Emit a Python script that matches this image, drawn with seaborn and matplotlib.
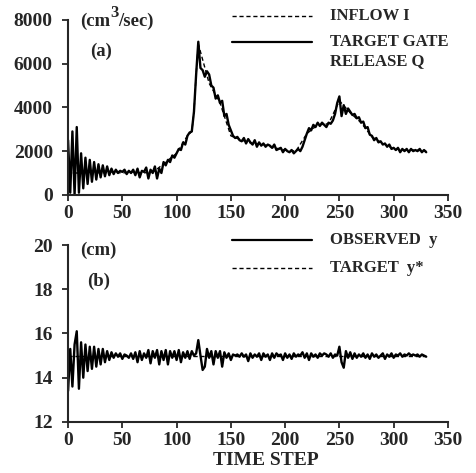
import numpy as np
import pandas as pd
import matplotlib
matplotlib.use("Agg")
import matplotlib.pyplot as plt
import seaborn as sns

# time axis (every 2nd step for the traced series)
steps = np.arange(0, 332, 2)

# panel (a): target gate release Q, cm3/sec
release_q = [
    2500, 100, 2900, 0, 3100, 100, 1900, 300, 1700, 500,
    1600, 600, 1500, 700, 1400, 800, 1350, 850, 1300, 900,
    1200, 950, 1150, 1000, 1100, 1050, 1150, 950, 1100, 1000,
    1150, 900, 1200, 800, 1100, 1050, 1250, 750, 1150, 1000,
    1300, 750, 1200, 1000, 1500, 1350, 1600, 1500, 1800, 1700,
    1900, 2100, 2050, 2400, 2300, 2700, 2850, 2900, 3800, 5500,
    7000, 5800, 5700, 5400, 5650, 5500, 5000, 4900, 4400, 4550,
    4200, 4300, 3600, 3700, 3200, 2950, 2700, 2600, 2650, 2500,
    2450, 2600, 2350, 2550, 2400, 2300, 2500, 2200, 2400, 2250,
    2350, 2200, 2300, 2250, 2150, 2300, 2050, 2100, 2150, 1950,
    2100, 2000, 1950, 2050, 1900, 2000, 2100, 2000, 2200, 2500,
    2800, 3050, 2950, 3200, 3100, 3300, 3150, 3300, 3200, 3100,
    3300, 3250, 3400, 3700, 4200, 4500, 3600, 4100, 3700, 3950,
    3800, 3650, 3700, 3500, 3550, 3300, 3350, 3050, 3100, 2750,
    2700, 2500, 2600, 2400, 2450, 2300, 2350, 2200, 2300, 2100,
    2150, 2050, 2150, 1950, 2100, 2000, 2100, 1950, 2100, 2000,
    2050, 2000, 2100, 1950, 2050, 1950,
]

# panel (a): inflow I (coarser, mostly hidden under Q)
inflow_steps = [0, 10, 20, 30, 40, 50, 60, 70, 80, 90, 100, 110, 114, 116, 118,
                120, 130, 140, 150, 160, 170, 180, 190, 200, 210, 220, 230, 240,
                250, 260, 270, 280, 290, 300, 310, 320, 330]
inflow_i = [1000, 1000, 1050, 1000, 1050, 1000, 1050, 1000, 1100, 1500, 1900,
            2700, 2900, 3800, 5500, 6900, 5100, 4200, 2700, 2500, 2350, 2300,
            2150, 2050, 2000, 2800, 3200, 3250, 4300, 3750, 3300, 2650, 2350,
            2100, 2050, 2050, 2000]

# panel (b): observed level y, cm
observed_y = [
    13.4, 15.3, 13.6, 15.5, 16.1, 13.5, 15.6, 14.0, 15.5, 14.3,
    15.4, 14.4, 15.4, 14.5, 15.3, 14.6, 15.3, 14.7, 15.2, 14.8,
    15.15, 14.9, 15.1, 14.95, 15.1, 14.85, 15.05, 15.0, 14.9, 15.1,
    14.85, 15.15, 14.7, 15.2, 14.8, 15.1, 14.9, 15.25, 14.65, 15.2,
    14.9, 15.25, 14.6, 15.2, 14.8, 15.25, 14.6, 15.2, 14.9, 15.2,
    14.8, 15.25, 14.7, 15.15, 14.9, 15.2, 14.85, 15.2, 15.0, 15.1,
    15.7, 15.0, 14.35, 14.5, 15.3, 14.9, 15.2, 14.6, 15.2, 14.9,
    15.2, 14.5, 15.15, 14.9, 15.1, 14.8, 15.05, 15.0, 15.05, 14.95,
    15.1, 14.95, 15.05, 14.75, 15.1, 14.9, 15.05, 14.95, 15.1, 14.8,
    15.1, 14.95, 15.05, 14.8, 15.1, 14.9, 15.1, 15.0, 15.05, 14.8,
    15.1, 14.9, 15.05, 14.85, 15.1, 14.95, 15.05, 15.0, 15.15, 14.9,
    15.1, 14.8, 15.1, 14.95, 15.05, 14.9, 15.1, 15.0, 15.1, 15.05,
    14.95, 15.1, 14.9, 15.05, 15.0, 15.4, 14.7, 14.45, 15.2, 14.9,
    15.15, 14.85, 15.1, 14.9, 15.05, 14.95, 15.1, 14.9, 15.05, 14.85,
    15.1, 14.95, 15.05, 14.9, 15.0, 15.1, 14.85, 15.05, 14.95, 15.1,
    14.9, 15.05, 15.0, 15.1, 14.95, 15.05, 15.0, 15.1, 15.0, 15.05,
    15.0, 15.05, 14.95, 15.05, 15.0, 14.95,
]

# panel (b): target level y*
target_steps = [0, 330]
target_y = [15.0, 15.0]

xticks = [0, 50, 100, 150, 200, 250, 300, 350]
yticks_a = [0, 2000, 4000, 6000, 8000]
yticks_b = [12, 14, 16, 18, 20]

sns.set_style("ticks")
plt.rcParams['font.family'] = ['Liberation Serif', 'DejaVu Serif']
plt.rcParams['font.weight'] = 'bold'

fig = plt.figure(figsize=(4.76, 4.73), dpi=100)
ax_a = fig.add_axes([0.143, 0.588, 0.798, 0.370])
ax_b = fig.add_axes([0.143, 0.108, 0.798, 0.374])

df_a = pd.DataFrame({"step": steps, "q": release_q})
df_i = pd.DataFrame({"step": inflow_steps, "i": inflow_i})
df_b = pd.DataFrame({"step": steps, "y": observed_y})
df_t = pd.DataFrame({"step": target_steps, "y": target_y})

sns.lineplot(data=df_i, x="step", y="i", ax=ax_a, color="black", lw=1.0, linestyle=(0, (3, 2)))
sns.lineplot(data=df_a, x="step", y="q", ax=ax_a, color="black", lw=1.7)
sns.lineplot(data=df_t, x="step", y="y", ax=ax_b, color="black", lw=1.0, linestyle=(0, (3, 2)))
sns.lineplot(data=df_b, x="step", y="y", ax=ax_b, color="black", lw=1.7)

for ax, yt, ylim in [(ax_a, yticks_a, (0, 8000)), (ax_b, yticks_b, (12, 20))]:
    ax.set_xlim(0, 350)
    ax.set_ylim(*ylim)
    ax.set_xticks(xticks)
    ax.set_yticks(yt)
    ax.set_xlabel("")
    ax.set_ylabel("")
    sns.despine(ax=ax)
    for s in ["left", "bottom"]:
        ax.spines[s].set_linewidth(1.5)
    ax.tick_params(direction="out", length=4, width=1.3, labelsize=14)
    ax.tick_params(axis="y", pad=7)
    ax.tick_params(axis="x", pad=3)
    for lab in ax.get_xticklabels() + ax.get_yticklabels():
        lab.set_fontweight("bold")

ax_b.set_xlabel("TIME STEP", fontsize=14, fontweight="bold", labelpad=0)
ax_b.xaxis.set_label_coords(0.52, -0.17)

# unit and panel labels (the superscript is nearly full size in the original)
ax_a.text(0.032, 0.99, "(cm", transform=ax_a.transAxes, fontsize=13.5,
          fontweight="bold", va="center", ha="left")
ax_a.text(0.111, 1.04, "3", transform=ax_a.transAxes, fontsize=12,
          fontweight="bold", va="center", ha="left")
ax_a.text(0.133, 0.99, "/sec)", transform=ax_a.transAxes, fontsize=13.5,
          fontweight="bold", va="center", ha="left")
ax_a.text(0.058, 0.82, "(a)", transform=ax_a.transAxes, fontsize=13.5,
          fontweight="bold", va="center", ha="left")
ax_b.text(0.032, 0.972, "(cm)", transform=ax_b.transAxes, fontsize=13.5,
          fontweight="bold", va="center", ha="left")
ax_b.text(0.05, 0.793, "(b)", transform=ax_b.transAxes, fontsize=13.5,
          fontweight="bold", va="center", ha="left")

# legends drawn by hand so the line sits beside the first text row
def legend_row(ax, y, text, ls, lw):
    ax.plot([0.432, 0.642], [y, y], transform=ax.transAxes, color="black",
            lw=lw, linestyle=ls, clip_on=False)
    ax.text(0.689, y, text, transform=ax.transAxes, fontsize=12,
            fontweight="bold", va="center", ha="left")

legend_row(ax_a, 1.02, "INFLOW I", (0, (3, 2)), 1.0)
legend_row(ax_a, 0.872, "TARGET GATE", "-", 1.6)
ax_a.text(0.689, 0.766, "RELEASE Q", transform=ax_a.transAxes, fontsize=12,
          fontweight="bold", va="center", ha="left")
legend_row(ax_b, 1.028, "OBSERVED  y", "-", 1.6)
legend_row(ax_b, 0.870, "TARGET  y*", (0, (3, 2)), 1.0)

fig.savefig("out.png", dpi=100)
